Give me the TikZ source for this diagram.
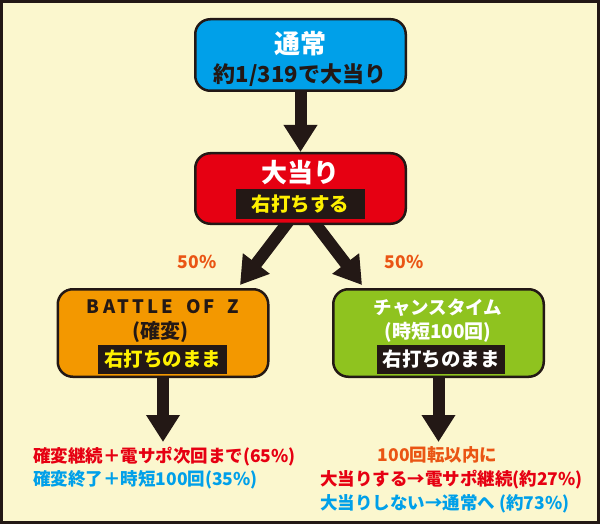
\documentclass[tikz,border=0pt]{standalone}
\usepackage{fontspec}
\setmainfont{Noto Sans CJK JP}
\usetikzlibrary{arrows.meta}
\definecolor{cream}{HTML}{FBF7CE}
\definecolor{ink}{HTML}{231815}
\definecolor{skyblue}{HTML}{00A0E9}
\definecolor{hitred}{HTML}{E60012}
\definecolor{kakuorange}{HTML}{F39800}
\definecolor{chancegreen}{HTML}{8FC31F}
\definecolor{tagyellow}{HTML}{FFF100}
\definecolor{pctorange}{HTML}{EA5514}

\begin{document}
\begin{tikzpicture}[x=1pt,y=-1pt,
  box/.style={draw=ink,line width=2.5pt,rounded corners=15pt,minimum width=210.5pt,inner sep=0pt},
  tag/.style={fill=ink,minimum width=129pt,minimum height=29pt,inner sep=0pt,font=\bfseries\fontsize{19.5}{20}\selectfont},
  big/.style={inner sep=0pt,font=\bfseries\fontsize{26}{28}\selectfont},
  sub/.style={inner sep=0pt,font=\bfseries\fontsize{20}{22}\selectfont},
  note/.style={inner sep=0pt,font=\bfseries\fontsize{17.5}{20}\selectfont},
  blk/.style={draw=ink,line width=12pt,-{Triangle[width=32pt,length=27pt]}}]
\draw[fill=cream,draw=ink,line width=3pt] (1.5,1.5) rectangle (598.5,522.5);
\useasboundingbox (0,0) rectangle (600,524);

% the two branches start behind the red box
\coordinate (fork) at (301,205);
\coordinate (lefttip) at (240,285);
\coordinate (righttip) at (362,285);
\draw[blk] (fork) -- (lefttip);
\draw[blk] (fork) -- (righttip);

\node[box,fill=skyblue,minimum height=71.5pt] (normal) at (300.5,55) {};
\node[big,text=white] (normaltitle) at (300.5,44) {通常};
\node[sub,text=ink,font=\bfseries\fontsize{22}{24}\selectfont] (normalsub) at (300,75) {約1/319で大当り};

\node[box,fill=hitred,minimum height=70.5pt] (hit) at (300.5,188.5) {};
\node[big,text=white] (hittitle) at (300.5,173) {大当り};
\node[tag,text=tagyellow] (hittag) at (300.5,204) {右打ちする};

\node[box,fill=kakuorange,minimum height=87.5pt] (kakuhen) at (163,333) {};
\node[inner sep=0pt,text=ink,font=\bfseries\fontsize{18.5}{20}\selectfont\addfontfeatures{LetterSpace=18}] (kakuhentitle) at (163,307) {BATTLE\hspace{5pt} OF\hspace{5pt} Z};
\node[sub,text=ink] (kakuhensub) at (160,332) {(確変)};
\node[tag,text=tagyellow] (kakuhentag) at (162.5,359.5) {右打ちのまま};

\node[box,fill=chancegreen,minimum height=87.5pt] (chance) at (438.5,333) {};
\node[inner sep=0pt,text=white,font=\bfseries\fontsize{18.5}{20}\selectfont] (chancetitle) at (438,308) {チャンスタイム};
\node[sub,text=white,font=\bfseries\fontsize{19}{21}\selectfont] (chancesub) at (438,332) {(時短100回)};
\node[tag,text=white,minimum width=128pt] (chancetag) at (441,359.5) {右打ちのまま};

\coordinate (kakuhenend) at (163,442);
\coordinate (chanceend) at (438.5,442);
\draw[blk] (normal.south) -- (hit.north);
\draw[blk] (kakuhen.south) -- (kakuhenend);
\draw[blk] (chance.south) -- (chanceend);

\node[note,text=pctorange] (lefthalf) at (197,262) {50\%};
\node[note,text=pctorange] (righthalf) at (404,262) {50\%};

\node[note,text=hitred,anchor=west] (kakuhenres1) at (33,457) {確変継続＋電サポ次回まで(65\%)};
\node[note,text=skyblue,anchor=west] (kakuhenres2) at (33,480) {確変終了＋時短100回(35\%)};
\node[note,text=pctorange] (chancehead) at (437.5,455) {100回転以内に};
\node[note,text=hitred,anchor=west] (chanceres1) at (320,480) {大当りする→電サポ継続(約27\%)};
\node[note,text=skyblue,anchor=west] (chanceres2) at (320,504) {大当りしない→通常へ (約73\%)};
\end{tikzpicture}
\end{document}
